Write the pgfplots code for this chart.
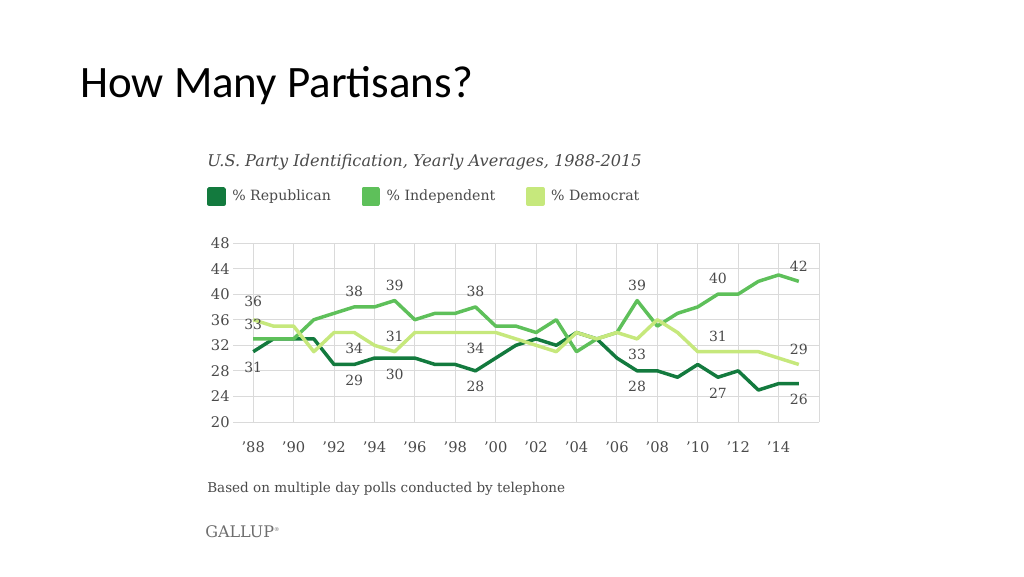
\documentclass[border=0pt]{standalone}
\usepackage{pgfplots}
\pgfplotsset{compat=1.18}
\usepackage{fontspec}
\setmainfont{DejaVu Serif}
\newfontfamily\titlefont{Carlito}
\definecolor{rep}{HTML}{137A3E}
\definecolor{ind}{HTML}{5EC05A}
\definecolor{dem}{HTML}{C6E87C}
\definecolor{txt}{HTML}{4A4A4A}
\definecolor{gridc}{HTML}{DADADA}
\begin{document}
\begin{tikzpicture}
\begin{scope}[x=0.75pt,y=0.75pt]
\path[use as bounding box,fill=white] (0,0) rectangle (1024,576);
\node[anchor=base west,inner sep=0pt,font=\titlefont\fontsize{33.7}{40}\selectfont] at (80,576-98) {How Many Partisans?};
\node[anchor=base west,inner sep=0pt,font=\itshape\fontsize{12.1}{14}\selectfont,text=txt] at (207,576-166) {U.S. Party Identification, Yearly Averages, 1988-2015};
\node[anchor=base west,inner sep=0pt,font=\fontsize{10.15}{12}\selectfont,text=txt] at (207,576-492) {Based on multiple day polls conducted by telephone};
\node[anchor=base west,inner sep=0pt,font=\fontsize{12}{12}\selectfont,text=txt!80] at (205,576-537) {GALLUP\raisebox{4pt}{\fontsize{4}{4}\selectfont ®}};
\end{scope}
\begin{axis}[
  at={(174.75pt,115.5pt)}, anchor=south west, scale only axis,
  width=439.5pt, height=134.25pt,
  xmin=1987, xmax=2016, ymin=20, ymax=48,
  axis line style={draw=none}, tick style={draw=none},
  xtick={1988,1990,...,2014},
  xticklabels={{'88},{'90},{'92},{'94},{'96},{'98},{'00},{'02},{'04},{'06},{'08},{'10},{'12},{'14}},
  extra x ticks={2016}, extra x tick labels={},
  extra x tick style={grid=major},
  ytick={20,24,...,48},
  yticklabels={20,24,28,32,36,40,44,48},
  grid=major, major grid style={gridc, line width=0.75pt},
  tick label style={font=\fontsize{11}{12}\selectfont, text=txt},
  xticklabel style={yshift=-11pt},
  yticklabel style={xshift=1pt},
  /pgf/number format/assume math mode=true,
  clip=false,
  legend columns=3,
  legend cell align=left,
  legend style={at={(-0.0444,1.313)}, anchor=north west, draw=none, fill=none, inner sep=0pt,
    font=\fontsize{10.6}{12}\selectfont, text=txt,
    /tikz/every even column/.append style={column sep=21pt}},
  legend image code/.code={\fill[#1] (0pt,-5.6pt) rectangle (11.25pt,5.6pt); \path[draw=none,fill=none] (0pt,0pt) rectangle (15.5pt,0.1pt);},
  every axis plot/.append style={line width=2.6pt, line join=round},
]
\addplot[rep, mark=none] coordinates {
(1988,31)(1989,33)(1990,33)(1991,33)(1992,29)(1993,29)(1994,30)(1995,30)(1996,30)(1997,29)
(1998,29)(1999,28)(2000,30)(2001,32)(2002,33)(2003,32)(2004,34)(2005,33)(2006,30)(2007,28)
(2008,28)(2009,27)(2010,29)(2011,27)(2012,28)(2013,25)(2014,26)(2015,26)};
\addlegendentry{\% Republican}
\addplot[ind, mark=none] coordinates {
(1988,33)(1989,33)(1990,33)(1991,36)(1992,37)(1993,38)(1994,38)(1995,39)(1996,36)(1997,37)
(1998,37)(1999,38)(2000,35)(2001,35)(2002,34)(2003,36)(2004,31)(2005,33)(2006,34)(2007,39)
(2008,35)(2009,37)(2010,38)(2011,40)(2012,40)(2013,42)(2014,43)(2015,42)};
\addlegendentry{\% Independent}
\addplot[dem, mark=none] coordinates {
(1988,36)(1989,35)(1990,35)(1991,31)(1992,34)(1993,34)(1994,32)(1995,31)(1996,34)(1997,34)
(1998,34)(1999,34)(2000,34)(2001,33)(2002,32)(2003,31)(2004,34)(2005,33)(2006,34)(2007,33)
(2008,36)(2009,34)(2010,31)(2011,31)(2012,31)(2013,31)(2014,30)(2015,29)};
\addlegendentry{\% Democrat}
% labels above
\addplot[draw=none, mark=none, forget plot, point meta=y, nodes near coords,
  nodes near coords style={anchor=center, yshift=11.5pt, font=\fontsize{10.5}{12}\selectfont, text=txt}]
  coordinates {(1993,38)(1995,39)(1999,38)(2007,39)(2011,40)(2015,42)(1995,31)(2011,31)(2015,29)};
\addplot[draw=none, mark=none, forget plot, point meta=y, nodes near coords,
  nodes near coords style={anchor=center, yshift=10.5pt, font=\fontsize{10.5}{12}\selectfont, text=txt}]
  coordinates {(1988,33)};
\addplot[draw=none, mark=none, forget plot, point meta=y, nodes near coords,
  nodes near coords style={anchor=center, yshift=13.5pt, font=\fontsize{10.5}{12}\selectfont, text=txt}]
  coordinates {(1988,36)};
% labels below
\addplot[draw=none, mark=none, forget plot, point meta=y, nodes near coords,
  nodes near coords style={anchor=center, yshift=-12pt, font=\fontsize{10.5}{12}\selectfont, text=txt}]
  coordinates {(1988,31)(1993,29)(1995,30)(1999,28)(2007,28)(2011,27)(2015,26)(1993,34)(1999,34)(2007,33)};
\end{axis}
\end{tikzpicture}
\end{document}
